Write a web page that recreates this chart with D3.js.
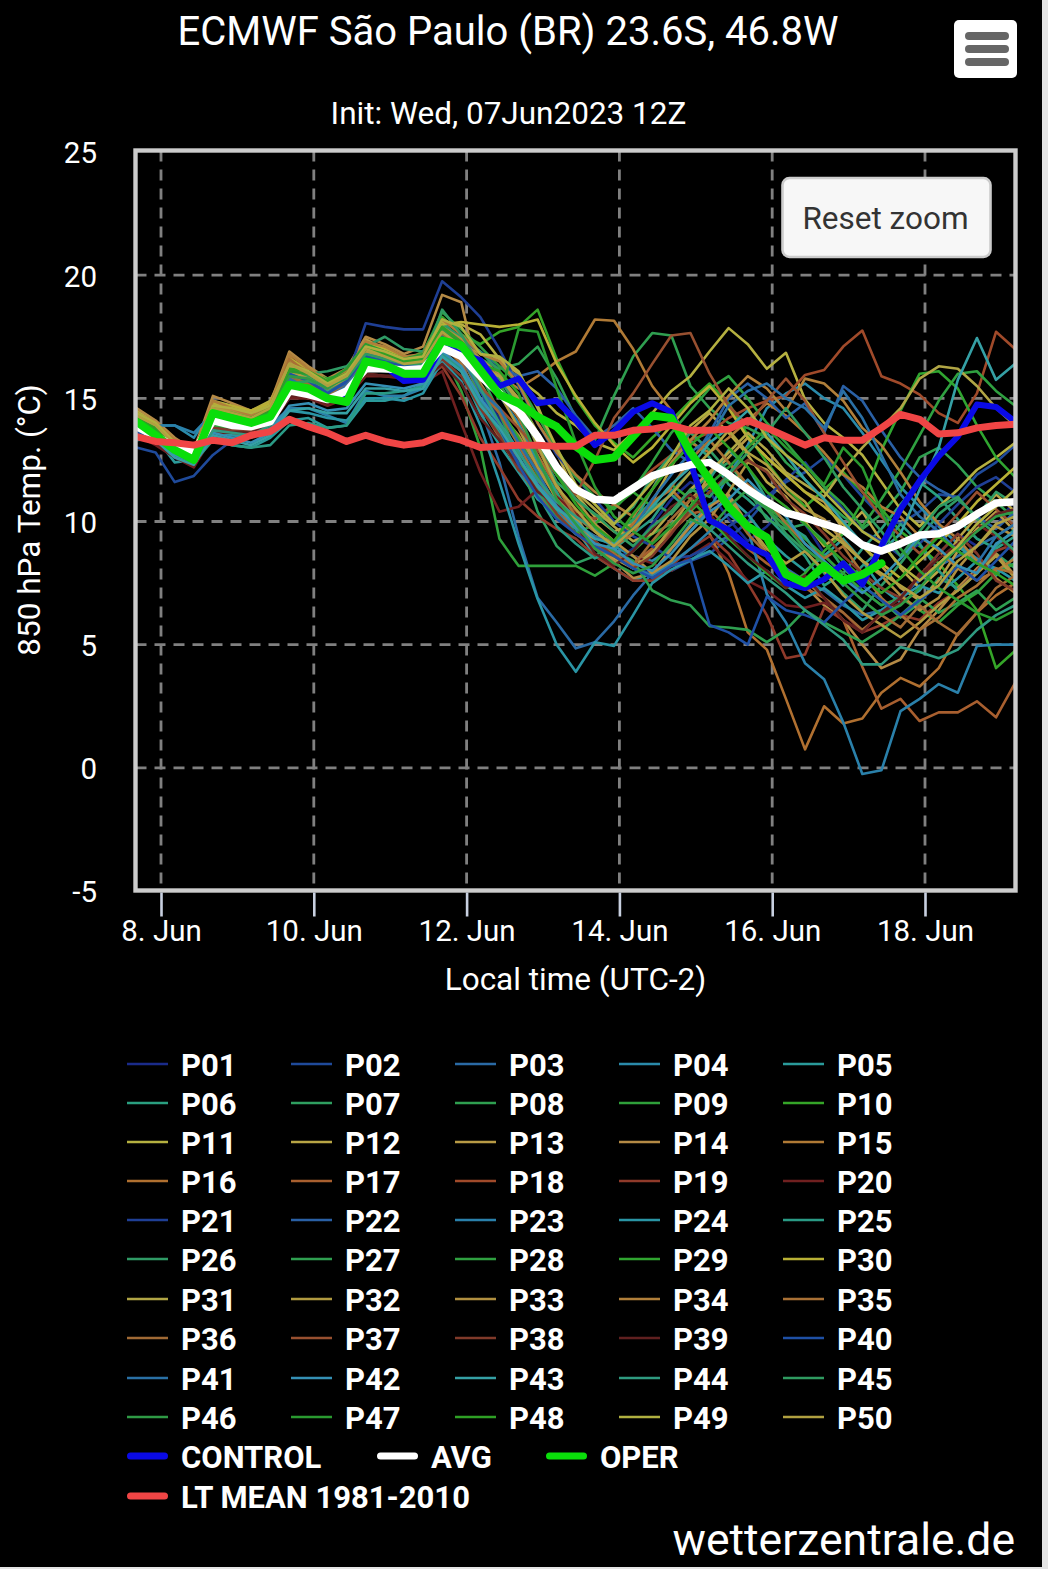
<!DOCTYPE html>
<html>
<head>
<meta charset="utf-8">
<script src="https://cdnjs.cloudflare.com/ajax/libs/d3/7.8.5/d3.min.js"></script>
<style>
  html, body { margin: 0; padding: 0; background: #e4e4e4; overflow: hidden; }
  svg { display: block; font-family: Roboto, sans-serif; }
</style>
</head>
<body>
<svg id="chart" width="1042" height="1567"></svg>
<script>
// 6-hourly steps in local time (UTC-2), first value on 7 Jun 16:00
const startTime = Date.UTC(2023, 5, 7, 16);
const stepHours = 6;

const yTicks = [25, 20, 15, 10, 5, 0, -5];
const xTickDays = [8, 10, 12, 14, 16, 18];

const P01 = [13.4,13.2,12.6,12.3,13.8, 13.7,13.8,14.0,15.4,15.2, 14.9,15.3,16.3,16.2,16.0, 16.0,17.4,16.6,15.3,14.2, 12.6,11.6,10.4,9.7,8.9, 8.4,8.9,9.9,10.9,11.6, 11.2,10.1,9.2,9.8,10.6, 9.9,8.7,7.7,7.2,6.6, 6.9,7.7,8.7,9.5,9.0, 9.8,10.9];
const P02 = [13.0,12.8,11.6,11.85,12.7, 13.3,13.5,14.0,15.0,15.2, 15.0,15.4,16.6,16.5,16.4, 16.5,17.6,17.0,15.5,13.8, 12.4,11.2,10.2,9.5,9.0, 8.6,8.1,7.9,8.0,8.4, 8.7,9.3,10.0,10.9,11.6, 12.0,12.6,11.9,11.0,10.2, 9.9,10.4,11.1,11.0,11.9, 12.4,13.1];
const P03 = [13.5,13.6,13.2,12.7,14.0, 14.2,14.3,14.9,15.6,15.3, 15.0,15.2,16.3,16.5,16.2, 16.1,17.2,16.5,14.6,12.4, 9.4,6.9,5.9,4.85,5.1, 5.95,7.0,7.9,8.2,8.4, 9.0,9.4,9.0,8.6,8.1, 7.6,7.2,6.6,6.2,6.4, 7.0,7.6,8.2,8.6,9.0, 9.4,9.9];
const P04 = [13.8,13.9,13.9,13.4,14.6, 14.4,14.2,14.6,15.8,15.5, 15.3,15.6,16.7,16.4,16.2, 16.4,17.7,17.1,15.8,15.1, 14.0,12.4,11.1,10.2,9.6, 9.0,8.6,8.4,8.9,9.6, 10.5,11.9,13.1,14.6,15.2, 15.6,15.0,14.6,13.6,12.5, 11.4,10.6,9.8,9.1,8.5, 8.0,8.3];
const P05 = [13.3,13.4,12.4,12.5,13.4, 13.1,13.0,13.4,14.1,14.2, 13.8,13.9,14.9,14.9,15.1, 15.6,16.7,16.1,14.4,13.1, 12.0,10.9,10.3,9.7,8.6, 8.1,7.6,7.9,8.9,9.9, 10.7,11.0,10.3,9.3,8.6, 8.0,8.6,9.3,8.4,7.3, 6.7,7.2,8.3,9.0,8.4, 7.8,8.6];
const P06 = [13.9,13.5,12.9,12.3,13.9, 13.9,14.0,14.4,16.0,15.9, 15.3,15.7,17.0,16.8,16.6, 16.8,18.1,17.4,16.2,15.6, 14.3,12.5,11.2,9.8,9.1, 8.8,9.9,11.3,12.7,13.3, 12.6,11.5,10.9,10.2,9.4, 8.6,7.4,7.9,8.9,9.7, 10.7,11.6,11.0,10.1,9.3, 8.9,9.4];
const P07 = [14.1,13.7,13.0,12.5,14.2, 14.1,13.9,14.3,15.7,15.8, 15.2,15.8,16.9,16.6,16.3, 16.2,17.5,16.8,15.0,13.9, 12.7,10.4,9.0,8.3,8.6, 9.2,10.1,10.8,10.3,11.2, 11.9,12.4,11.3,10.1,9.7, 9.9,9.2,8.1,7.4,6.8, 6.1,6.7,7.7,7.3,8.0, 8.7,8.1];
const P08 = [14.2,13.8,13.1,12.6,14.5, 14.3,14.1,14.4,16.1,15.9, 15.6,16.0,17.0,16.7,16.4, 16.5,17.9,17.3,16.6,16.2, 16.4,17.1,15.8,14.2,13.3, 15.1,16.7,17.65,17.55,15.5, 14.6,14.0,13.8,13.4,12.4, 11.7,10.9,10.2,9.7,10.3, 11.2,12.6,13.0,12.3,11.4, 10.8,10.1];
const P09 = [13.6,13.3,12.8,12.4,13.9, 13.8,13.7,14.1,15.3,15.4, 15.0,15.2,16.1,16.2,16.1, 16.0,16.9,15.3,13.0,9.3, 8.2,8.2,8.2,8.2,7.8, 8.3,8.8,9.5,9.9,10.4, 11.2,11.7,11.4,10.6,10.0, 9.3,8.6,7.9,7.2,6.6, 6.9,6.4,5.9,6.6,7.1, 7.9,8.3];
const P10 = [14.3,13.9,13.2,12.7,14.4, 14.5,14.3,14.7,16.2,16.0, 15.7,16.1,17.3,16.9,16.5, 16.9,18.3,17.6,17.2,17.7, 17.9,18.6,16.6,15.0,13.9, 13.2,12.6,13.4,14.1,14.9, 15.6,14.8,13.5,12.4,11.4, 10.6,11.3,12.0,11.2,10.5, 9.6,9.0,8.3,7.4,6.4, 4.05,4.75];
const P11 = [14.5,14.0,13.3,12.8,14.9, 14.7,14.5,14.9,16.5,16.0, 15.6,16.2,17.2,16.9,16.6, 16.7,18.1,18.0,17.6,16.6, 15.8,15.2,14.4,13.9,13.2, 12.9,13.6,14.4,15.3,15.9, 16.9,17.85,17.2,16.2,16.85, 14.95,14.0,13.4,12.7,11.6, 10.5,9.8,10.6,11.3,12.1, 12.6,13.2];
const P12 = [14.4,14.0,13.2,12.9,14.8, 14.6,14.4,14.7,16.3,16.1, 15.5,15.9,17.0,16.8,16.5, 16.6,17.8,17.3,16.8,16.6, 16.0,14.7,12.8,11.1,10.2, 9.6,9.9,10.8,12.2,13.7, 14.4,13.6,12.7,11.6,11.0, 10.0,9.0,9.6,10.4,9.2, 8.1,7.3,8.0,9.3,10.2, 11.1,10.4];
const P13 = [14.3,13.8,13.0,12.6,14.6, 14.4,14.1,14.5,16.4,16.0, 15.4,15.8,17.4,17.0,16.7, 16.6,17.7,17.2,16.1,15.8, 14.9,13.0,11.5,10.2,9.0, 8.5,8.1,8.8,9.6,10.6, 11.9,12.6,13.4,12.6,11.9, 11.2,10.8,9.7,9.0,8.2, 7.3,6.8,7.6,8.8,9.7, 10.4,9.6];
const P14 = [14.6,14.1,13.4,12.9,15.1, 14.8,14.5,14.8,16.9,16.3, 15.8,16.2,17.5,17.2,16.8, 17.1,19.2,18.9,15.6,14.4, 13.5,12.2,11.0,10.0,9.0, 8.4,7.7,7.9,8.9,9.8, 10.6,11.1,9.9,8.7,7.9, 7.4,6.6,6.0,5.0,4.05, 4.4,5.6,6.4,7.3,8.1, 8.7,7.8];
const P15 = [14.2,13.9,13.3,12.7,14.7, 14.4,14.2,14.6,16.7,16.0, 15.6,16.0,17.3,17.0,16.5, 16.6,17.8,17.2,16.4,15.9, 15.4,15.9,16.5,16.9,18.2, 18.15,17.0,15.5,14.5,13.2, 12.8,13.4,14.1,14.8,14.3, 13.6,12.8,11.9,11.4,10.6, 10.2,9.4,8.8,8.1,7.6, 8.0,8.5];
const P16 = [14.0,13.6,13.0,12.5,14.4, 14.2,14.0,14.3,15.9,15.7, 15.2,15.5,16.6,16.5,16.3, 16.3,17.2,16.4,14.9,13.6, 12.6,11.3,10.4,9.8,9.4, 9.2,9.9,10.8,11.3,10.5, 9.5,7.9,5.5,4.8,2.8, 0.75,2.5,1.8,2.0,3.05, 3.65,3.3,4.05,5.45,6.3, 7.0,7.5];
const P17 = [13.7,13.4,12.9,12.4,14.1, 14.0,13.9,14.2,15.5,15.6, 15.1,15.3,16.4,16.2,16.2, 16.1,17.0,16.2,14.7,13.4, 12.1,11.1,10.2,9.5,8.9, 8.6,8.3,8.9,9.6,10.3, 10.5,9.7,8.9,8.3,7.8, 7.3,6.9,6.0,4.1,2.4, 2.8,1.9,2.25,2.25,2.7, 2.05,3.45];
const P18 = [13.9,13.5,12.9,12.5,14.0, 13.9,14.0,14.3,15.6,15.5, 15.0,15.4,16.5,16.4,16.3, 16.2,17.3,16.7,15.4,14.5, 13.2,12.1,11.0,10.4,10.1, 10.7,11.4,12.1,12.7,13.3, 13.6,14.2,14.6,14.9,15.1, 15.95,16.15,17.1,17.75,15.9, 15.6,15.15,14.4,14.0,15.2, 17.7,17.0];
const P19 = [13.6,13.2,12.7,12.3,13.6, 13.5,13.6,14.0,15.1,15.0, 14.8,15.1,16.0,15.9,15.9, 15.7,16.3,15.1,13.4,12.2, 10.9,10.2,9.7,9.3,8.6, 8.1,7.6,7.6,8.2,8.9, 9.4,8.7,7.5,6.2,4.45, 4.6,6.5,6.0,5.5,5.8, 6.2,6.0,6.7,7.2,8.0, 8.8,9.1];
const P20 = [13.5,13.1,12.6,12.2,13.5, 13.4,13.5,13.9,15.0,15.0, 14.7,15.0,15.9,15.9,15.8, 15.6,16.1,14.0,12.0,10.4, 10.6,11.3,11.0,10.3,9.8, 9.2,8.6,8.3,8.0,8.6, 9.1,8.4,7.6,7.2,6.6, 6.5,6.7,6.3,5.5,6.3, 6.7,7.9,8.2,9.0,9.9, 9.4,8.7];
const P21 = [13.7,13.5,13.0,12.6,14.2, 14.1,14.1,14.6,16.1,15.7, 15.4,15.8,18.05,17.9,17.8, 17.8,19.75,19.1,18.3,17.0, 15.5,14.0,12.7,11.8,10.9, 10.0,9.4,9.0,8.5,8.6, 9.0,9.8,10.3,11.0,11.7, 12.4,11.4,10.5,9.6,9.2, 8.6,9.1,9.9,10.7,11.4, 11.8,11.2];
const P22 = [13.8,13.5,12.9,12.5,14.3, 14.2,14.2,14.7,16.2,15.8, 15.2,15.6,16.8,16.6,16.5, 16.6,17.6,17.3,16.9,16.3, 15.9,16.1,15.4,14.3,13.4, 13.9,14.6,13.8,12.9,12.4, 13.6,15.0,15.6,15.0,14.2, 14.8,13.6,15.5,14.9,13.7, 12.6,11.8,11.3,10.9,10.2, 9.7,10.4];
const P23 = [13.3,13.9,13.9,13.6,14.4, 14.0,13.7,13.9,14.6,14.6, 14.3,14.0,15.3,15.1,15.1, 15.4,16.6,16.2,14.9,13.5, 12.1,11.2,10.4,9.5,9.1, 8.6,8.1,7.8,8.3,8.9, 9.6,10.3,9.7,7.05,5.9, 4.25,3.6,1.85,-0.25,-0.1, 2.3,2.8,3.4,3.05,4.95, 5.0,5.0];
const P24 = [13.4,13.6,13.3,12.9,13.7, 13.5,13.4,13.8,14.5,14.4, 14.2,14.1,15.0,15.0,14.9, 15.2,16.5,15.7,13.9,11.6, 9.1,6.85,5.0,3.9,5.1, 4.95,6.2,7.5,8.05,8.45, 8.8,8.2,7.5,8.0,7.4, 6.9,7.3,6.7,6.0,6.4, 6.9,7.4,7.1,7.7,8.4, 8.1,7.6];
const P25 = [13.7,13.4,12.8,12.4,13.3, 13.1,13.0,13.1,13.9,14.0, 13.8,13.9,15.2,15.2,15.3, 15.5,16.8,16.2,14.8,13.6, 12.3,11.1,9.8,9.1,8.5, 8.9,9.5,10.1,11.2,12.0, 11.7,12.9,12.2,10.9,9.9, 9.4,8.3,7.4,8.2,8.9, 9.9,9.1,8.0,7.2,7.9, 9.0,9.7];
const P26 = [14.0,13.6,12.9,12.4,14.1, 14.3,14.3,14.7,15.8,16.0, 16.1,16.3,17.1,17.5,17.0, 16.9,18.0,17.5,16.9,16.1, 14.7,13.1,11.6,10.9,10.3, 9.9,10.6,11.8,12.7,13.6, 12.9,12.0,11.1,10.5,9.5, 8.8,7.9,7.1,6.4,7.4, 8.3,9.3,10.3,10.9,10.2, 11.2,10.7];
const P27 = [14.1,13.7,13.0,12.6,14.3, 14.4,14.1,14.5,16.0,15.9, 15.5,16.0,17.0,16.9,16.7, 16.7,17.9,17.2,16.0,14.4, 12.6,11.3,10.2,9.5,9.1, 8.8,8.4,7.2,6.8,6.6, 5.75,5.7,5.6,5.1,5.6, 6.4,5.9,5.5,5.1,5.6, 6.2,6.9,6.3,6.7,7.2, 6.4,6.9];
const P28 = [14.2,13.8,13.1,12.7,14.6, 14.5,14.3,14.6,16.2,16.0, 15.6,16.1,17.1,16.8,16.6, 16.8,18.5,17.8,17.1,16.3, 15.6,14.3,12.9,11.8,11.0, 10.5,11.3,12.4,13.6,14.5, 15.4,15.9,15.0,14.0,13.2, 12.3,11.4,10.7,9.8,10.9, 12.1,13.5,14.9,16.0,16.1, 15.3,14.7];
const P29 = [14.1,13.7,13.0,12.6,14.4, 14.3,14.1,14.4,16.1,16.0, 15.8,16.0,17.1,16.9,16.5, 16.7,17.6,16.9,15.5,14.6, 13.4,11.9,10.3,9.5,9.9, 10.6,11.2,10.6,11.5,10.9, 10.1,9.3,8.6,7.9,7.3, 7.9,8.8,9.5,10.8,12.9, 14.5,16.0,16.1,15.4,13.9, 12.6,11.8];
const P30 = [14.4,14.0,13.3,12.8,14.8, 14.7,14.5,14.8,16.6,16.2, 15.7,16.1,17.2,17.0,16.7, 16.6,18.0,18.1,18.0,17.9, 18.0,18.2,16.4,15.1,14.0, 13.1,12.4,13.0,13.9,14.8, 15.5,14.6,13.4,12.6,11.9, 11.2,10.6,9.9,9.0,8.3, 7.7,8.4,9.1,9.9,10.8, 11.5,12.2];
const P31 = [14.3,13.9,13.2,12.7,14.6, 14.5,14.2,14.6,16.3,16.0, 15.5,15.9,17.0,16.8,16.4, 16.5,17.6,17.2,16.3,15.9, 15.0,13.6,12.2,11.2,10.5, 9.8,9.2,9.5,10.4,11.3, 12.0,12.8,13.6,12.9,12.0, 11.5,11.0,12.1,13.0,13.8, 14.6,15.8,16.3,16.2,15.5, 14.6,13.9];
const P32 = [14.2,13.8,13.1,12.6,14.5, 14.3,14.1,14.4,16.1,15.8, 15.4,15.8,16.9,16.7,16.4, 16.4,17.5,16.9,15.9,15.2, 13.8,12.2,10.9,10.1,9.2, 8.6,8.1,8.7,9.8,10.9, 11.6,10.9,9.9,8.9,8.3, 8.8,8.0,7.0,6.3,5.8, 5.3,5.9,6.6,7.2,7.9, 8.6,7.7];
const P33 = [14.3,13.9,13.2,12.8,14.7, 14.5,14.3,14.6,16.5,16.1, 15.6,15.9,17.0,16.8,16.5, 16.6,17.9,17.4,16.6,16.0, 14.8,13.2,11.9,10.9,9.9, 9.2,8.6,7.9,8.4,9.4, 10.1,11.2,12.4,12.1,11.2, 10.5,10.1,9.2,8.4,7.8, 7.0,6.4,6.9,8.1,9.0, 9.8,9.4];
const P34 = [14.4,14.0,13.3,12.8,14.9, 14.6,14.3,14.7,16.8,16.2, 15.7,16.1,17.3,17.1,16.7, 16.8,18.2,17.6,16.8,16.5, 15.6,14.0,12.8,11.9,11.2, 10.7,10.2,11.3,12.4,13.3, 14.1,15.1,15.9,15.4,14.5, 15.8,15.6,14.9,13.8,13.1, 12.0,10.8,9.9,9.3,8.4, 7.7,7.1];
const P35 = [14.1,13.7,13.0,12.5,14.6, 14.3,14.0,14.4,16.6,16.0, 15.5,15.9,17.1,16.9,16.4, 16.5,17.6,17.0,16.0,15.3, 14.2,12.7,11.4,10.2,9.6, 9.0,9.5,10.7,11.4,12.5, 13.3,12.4,11.5,10.9,9.9, 9.1,8.5,9.0,7.9,6.9, 6.2,5.6,6.1,6.9,7.4, 8.1,7.9];
const P36 = [13.9,13.6,13.0,12.5,14.3, 14.1,13.9,14.3,15.8,15.6, 15.1,15.5,16.6,16.4,16.2, 16.2,17.2,16.6,15.3,14.4, 13.1,11.7,10.7,9.8,9.1, 8.7,8.2,9.2,10.1,10.9, 11.4,10.6,9.5,8.7,8.0, 7.6,6.9,6.3,5.6,6.2, 5.7,6.6,5.9,5.4,6.3, 7.3,7.8];
const P37 = [13.8,13.5,12.9,12.4,14.1, 14.0,13.9,14.2,15.6,15.5, 15.0,15.4,16.5,16.3,16.2, 16.1,17.1,16.6,15.5,14.6, 13.8,12.9,11.9,11.1,12.5, 14.2,15.2,16.4,17.55,17.65, 16.0,14.7,13.9,14.9,15.8, 14.9,13.6,12.4,11.2,10.2, 9.4,8.7,9.5,10.3,11.2, 10.5,9.8];
const P38 = [13.6,13.3,12.8,12.3,13.8, 13.7,13.7,14.0,15.3,15.2, 14.9,15.2,16.2,16.1,16.0, 15.9,16.6,15.9,14.6,13.5, 12.1,11.4,10.3,9.5,9.2, 8.6,8.1,8.6,9.5,10.5, 11.2,11.9,12.5,12.0,10.9, 10.3,9.5,8.6,7.9,7.3, 6.9,7.8,8.7,9.5,8.7, 7.6,7.2];
const P39 = [13.5,13.2,12.7,12.3,13.6, 13.6,13.6,13.9,15.1,15.1, 14.8,15.0,16.0,15.9,15.9, 15.7,16.4,15.6,14.2,13.3, 12.3,11.2,10.7,9.9,8.7, 8.2,8.8,9.7,10.6,11.1, 10.3,9.4,8.6,8.0,7.3, 7.8,6.9,6.0,5.5,6.3, 6.9,7.8,8.5,9.1,9.6, 10.3,10.5];
const P40 = [13.6,13.4,12.9,12.5,14.0, 14.0,14.0,14.5,16.0,15.7, 15.2,15.7,16.7,16.5,16.3, 16.4,17.5,16.8,15.3,13.8, 12.3,11.0,10.1,9.5,9.0, 8.6,8.1,7.7,8.2,8.45, 5.8,5.5,5.0,6.95,6.4, 6.2,5.9,6.7,7.4,6.8, 6.2,6.8,7.4,8.2,7.6, 8.4,9.2];
const P41 = [13.7,13.5,12.9,12.5,14.1, 14.0,13.9,14.4,15.8,15.4, 15.0,15.5,16.5,16.3,16.2, 16.2,17.3,16.7,15.3,14.6, 13.2,12.0,10.6,9.9,9.4, 9.0,9.7,10.9,11.9,12.8, 13.4,14.7,15.3,15.6,15.0, 14.6,13.8,15.3,14.2,12.7, 11.1,10.2,9.6,8.8,8.3, 9.4,9.9];
const P42 = [13.4,13.4,12.7,12.4,13.6, 13.4,13.2,13.6,14.7,14.8, 14.5,14.6,15.6,15.5,15.4, 15.6,16.9,16.3,15.0,14.0, 12.9,11.5,10.6,9.8,9.1, 8.9,8.3,8.0,8.7,9.6, 10.4,10.9,11.7,10.9,10.2, 9.1,8.4,7.7,7.1,7.7, 8.5,9.4,8.9,8.2,7.9, 9.1,9.6];
const P43 = [13.5,13.3,12.6,12.3,13.5, 13.3,13.1,13.5,14.5,14.6, 14.4,14.4,15.4,15.4,15.3, 15.4,16.7,16.1,14.7,13.8, 12.6,11.4,10.5,10.0,9.3, 9.1,9.7,10.6,11.5,12.2, 13.2,13.8,14.5,13.6,12.7, 11.7,10.9,10.0,9.1,8.8, 9.5,11.3,13.0,15.75,17.45, 15.75,16.4];
const P44 = [13.8,13.5,12.8,12.4,13.7, 13.6,13.5,13.9,15.2,15.2, 15.0,15.2,16.2,16.1,16.1, 16.2,17.3,16.8,15.4,14.0, 12.8,11.7,10.8,10.2,9.7, 9.2,9.7,10.5,11.1,10.4, 9.7,9.0,8.3,7.7,7.1, 6.4,5.8,5.2,4.2,4.2, 4.9,4.7,4.45,4.8,5.6, 6.2,6.6];
const P45 = [13.9,13.6,12.9,12.5,14.0, 14.1,14.0,14.4,15.6,15.7, 15.5,15.8,16.8,16.6,16.4, 16.4,18.6,17.6,16.3,15.8, 14.6,13.2,11.9,10.9,10.3, 9.6,9.0,9.8,10.4,11.3, 11.0,11.9,12.8,13.6,14.6, 13.6,12.6,11.4,10.5,9.6, 8.6,9.6,10.6,11.0,10.1, 9.5,8.8];
const P46 = [14.0,13.6,13.0,12.5,14.2, 14.2,14.1,14.5,15.9,15.8, 15.4,15.9,17.0,16.8,16.4, 16.6,17.8,17.2,16.2,15.5, 14.4,12.6,10.9,9.9,8.9, 8.3,7.9,8.2,9.1,10.1, 9.7,10.6,11.3,10.5,9.8, 8.9,8.3,7.5,6.8,6.2, 6.6,7.3,8.2,8.9,9.6, 10.2,10.4];
const P47 = [14.1,13.7,13.0,12.6,14.4, 14.3,14.2,14.6,16.1,16.0, 15.7,16.2,17.2,16.9,16.6, 16.8,17.7,17.2,16.1,15.0, 17.8,17.7,15.4,13.2,11.4, 10.2,9.6,9.1,9.8,10.6, 11.5,12.2,13.0,13.8,13.0, 12.3,11.5,13.0,12.2,10.4, 8.9,8.0,7.3,6.8,6.3, 6.0,6.4];
const P48 = [14.2,13.8,13.1,12.7,14.5, 14.4,14.2,14.5,16.2,16.1, 15.7,16.0,17.0,16.8,16.5, 16.6,17.9,17.3,16.4,16.1, 15.2,13.4,11.9,10.7,9.8, 9.2,10.3,11.3,12.3,13.1, 13.8,13.0,12.2,11.2,10.6, 9.9,9.1,8.4,7.7,7.1, 7.7,8.6,9.4,8.8,8.3, 7.9,7.4];
const P49 = [14.4,14.0,13.2,12.8,14.7, 14.6,14.4,14.7,16.4,16.1, 15.6,16.0,17.1,16.9,16.6, 16.7,18.2,17.9,16.8,16.7, 16.1,14.6,13.0,11.5,10.7, 9.9,10.7,11.6,12.6,13.9, 14.5,15.4,14.6,13.4,12.7, 12.1,11.2,10.4,9.6,9.1, 8.2,7.6,8.3,9.0,9.9, 10.6,11.3];
const P50 = [14.3,13.9,13.1,12.7,14.6, 14.4,14.2,14.6,16.4,16.0, 15.5,15.9,17.0,16.7,16.4, 16.5,17.7,17.1,16.2,15.9, 14.9,13.1,11.4,10.5,9.6, 9.0,9.7,10.4,11.1,12.0, 12.8,13.7,12.8,12.3,11.4, 10.8,9.7,9.1,8.4,7.9, 7.4,6.9,7.4,8.4,9.0, 9.9,10.2];

const control = [13.9,13.5,13.0,12.7,14.2, 14.0,13.95,14.15,15.45,15.3, 15.0,15.2,16.35,16.3,15.7, 15.75,17.1,16.8,16.55,15.5, 15.8,14.8,14.9,14.1,13.1, 13.65,14.45,14.8,14.45,12.4, 10.05,9.65,9.0,8.65,7.5, 7.3,7.65,8.3,7.45,9.0, 10.5,11.65,12.65,13.45,14.75, 14.65,14.05];
const avg = [13.85,13.45,13.05,12.8,14.1, 13.9,13.85,14.05,15.3,15.15, 14.95,15.3,16.2,16.2,16.15, 16.2,17.05,16.7,15.9,15.2, 14.5,13.45,12.2,11.3,10.9, 10.85,11.35,11.85,12.1,12.3, 12.4,11.9,11.3,10.8,10.35, 10.15,9.9,9.65,9.05,8.8, 9.1,9.45,9.5,9.8,10.3, 10.75,10.8];
const oper = [14.05,13.5,12.9,12.5,14.4, 14.2,14.0,14.25,15.55,15.4, 15.0,14.85,16.5,16.35,16.0, 16.0,17.35,17.15,16.15,15.15, 14.8,14.25,13.85,13.05,12.5, 12.6,13.45,14.3,14.2,12.8, 11.7,10.6,9.8,9.35,7.85, 7.5,8.2,7.6,7.85,8.3];
const ltMean = [13.45,13.25,13.2,13.1,13.3, 13.2,13.5,13.65,14.15,13.85, 13.6,13.25,13.5,13.25,13.1, 13.2,13.5,13.3,13.0,13.05, 13.1,13.1,13.05,13.05,13.5, 13.5,13.7,13.75,13.9,13.7, 13.7,13.75,14.1,13.8,13.45, 13.1,13.4,13.3,13.3,13.8, 14.35,14.15,13.55,13.6,13.8, 13.9,13.95];

const members = [
  P01,P02,P03,P04,P05,P06,P07,P08,P09,P10,
  P11,P12,P13,P14,P15,P16,P17,P18,P19,P20,
  P21,P22,P23,P24,P25,P26,P27,P28,P29,P30,
  P31,P32,P33,P34,P35,P36,P37,P38,P39,P40,
  P41,P42,P43,P44,P45,P46,P47,P48,P49,P50
];
const memberNames = members.map((d, i) => "P" + String(i + 1).padStart(2, "0"));
const memberColors = [
  "#1a2b8a","#1f4a9a","#2a6aa5","#2a8aaa","#2a9a9a","#2a9f80","#2f9f60","#2f9f50","#2fa03a","#35a528",
  "#b5b040","#b8a545","#b89a45","#b58a45","#b07a35","#b07030","#a85f2f","#a04a2a","#903a2a","#702020",
  "#1f3f95","#2a60a5","#2a80aa","#2a95a5","#2a9a85","#2f9a65","#2f9f50","#2fa040","#30a530","#b8b035",
  "#b0a545","#b09a40","#b08f40","#b07f3a","#a87035","#a06a35","#985030","#803a2a","#602020","#1f50a5",
  "#2a70a5","#3590b5","#35a0a5","#2f9a80","#2f9a60","#2f9a45","#2a9a30","#2fa025","#b0b040","#b0a040"
];

const svg = d3.select("#chart");
svg.append("rect").attr("width", 1042).attr("height", 1567).attr("fill", "#000");

const xScale = d3.scaleUtc()
  .domain([Date.UTC(2023, 5, 8), Date.UTC(2023, 5, 18)])
  .range([162, 926]);
const yScale = d3.scaleLinear().domain([25, -5]).range([152, 891]);

const plot = { left: 135.5, right: 1015.5, top: 150.5, bottom: 890.5 };

svg.append("clipPath").attr("id", "plotClip").append("rect")
  .attr("x", plot.left).attr("y", plot.top)
  .attr("width", plot.right - plot.left).attr("height", plot.bottom - plot.top);

// grid
const gridDash = "11,8";
const grid = svg.append("g");
grid.selectAll(".h").data(yTicks.slice(1, -1)).join("line")
  .attr("x1", plot.left).attr("x2", plot.right)
  .attr("y1", d => yScale(d)).attr("y2", d => yScale(d))
  .attr("stroke", "#808080").attr("stroke-width", 2.8).attr("stroke-dasharray", gridDash);
grid.selectAll(".v").data(xTickDays).join("line")
  .attr("x1", d => xScale(Date.UTC(2023, 5, d)) - 1).attr("x2", d => xScale(Date.UTC(2023, 5, d)) - 1)
  .attr("y1", plot.top).attr("y2", plot.bottom)
  .attr("stroke", "#808080").attr("stroke-width", 2.8).attr("stroke-dasharray", gridDash);

// series
const line = d3.line()
  .x((d, i) => xScale(startTime + i * stepHours * 3600000))
  .y(d => yScale(d));

const lines = svg.append("g").attr("clip-path", "url(#plotClip)")
  .attr("fill", "none").attr("stroke-linejoin", "round");
lines.selectAll(".member").data(members).join("path")
  .attr("class", "member")
  .attr("d", line)
  .attr("stroke", (d, i) => memberColors[i])
  .attr("stroke-width", 2.6);

const thick = [
  { name: "CONTROL", values: control, color: "#0a0ae6", width: 6 },
  { name: "AVG", values: avg, color: "#ffffff", width: 7.5 },
  { name: "OPER", values: oper, color: "#0ade0a", width: 8 },
  { name: "LT MEAN 1981-2010", values: ltMean, color: "#f04545", width: 7 }
];
thick.forEach(s => {
  lines.append("path").attr("d", line(s.values))
    .attr("stroke", s.color).attr("stroke-width", s.width).attr("stroke-linecap", "round");
});

// plot border
svg.append("rect")
  .attr("x", plot.left).attr("y", plot.top)
  .attr("width", plot.right - plot.left).attr("height", plot.bottom - plot.top)
  .attr("fill", "none").attr("stroke", "#cccccc").attr("stroke-width", 4.4);

// axes
const xAxis = d3.axisBottom(xScale)
  .tickValues(xTickDays.map(d => new Date(Date.UTC(2023, 5, d))))
  .tickFormat(d => d.getUTCDate() + ". Jun")
  .tickSize(24).tickPadding(4);
const xG = svg.append("g").attr("transform", "translate(-1,892.5)").call(xAxis);
xG.select(".domain").remove();
xG.selectAll(".tick line").attr("stroke", "#c8d0e0").attr("stroke-width", 2.6);
xG.selectAll(".tick text").attr("fill", "#fff").attr("font-size", 29.5).attr("font-family", "Roboto");

const yAxis = d3.axisLeft(yScale).tickValues(yTicks).tickFormat(String).tickSize(0).tickPadding(0);
const yG = svg.append("g").attr("transform", "translate(97,1.5)").call(yAxis);
yG.select(".domain").remove();
yG.selectAll(".tick text").attr("fill", "#fff").attr("font-size", 29.5).attr("font-family", "Roboto");

svg.append("text").text("850 hPa Temp. (°C)")
  .attr("transform", "translate(40,520) rotate(-90)")
  .attr("text-anchor", "middle").attr("fill", "#fff").attr("font-size", 31.5);
svg.append("text").text("Local time (UTC-2)")
  .attr("x", 575.5).attr("y", 990).attr("text-anchor", "middle").attr("fill", "#fff").attr("font-size", 31.5);

// titles
svg.append("text").text("ECMWF São Paulo (BR) 23.6S, 46.8W")
  .attr("x", 508).attr("y", 45).attr("text-anchor", "middle").attr("fill", "#fff").attr("font-size", 40);
svg.append("text").text("Init: Wed, 07Jun2023 12Z")
  .attr("x", 508.5).attr("y", 124).attr("text-anchor", "middle").attr("fill", "#fff").attr("font-size", 31.5);

// menu button
const menu = svg.append("g");
menu.append("rect").attr("x", 954).attr("y", 20).attr("width", 63).attr("height", 58).attr("rx", 5).attr("fill", "#fff");
menu.selectAll(".bar").data([32, 45, 58]).join("rect")
  .attr("x", 965).attr("y", d => d).attr("width", 44).attr("height", 8).attr("rx", 4).attr("fill", "#666");

// reset zoom button
svg.append("rect").attr("x", 782.5).attr("y", 178).attr("width", 208).attr("height", 79).attr("rx", 7)
  .attr("fill", "#f7f7f7").attr("stroke", "#cccccc").attr("stroke-width", 2.6);
svg.append("text").text("Reset zoom")
  .attr("x", 885.5).attr("y", 229).attr("text-anchor", "middle").attr("fill", "#333").attr("font-size", 31.5);

// legend
const legendRows = [1064, 1103, 1142, 1181, 1220, 1259, 1299, 1338, 1378, 1417, 1456, 1496];
const legend = svg.append("g").attr("font-weight", 700).attr("font-size", 31).attr("fill", "#fff");
const memberItems = legend.selectAll(".item").data(memberNames).join("g")
  .attr("transform", (d, i) => `translate(${127 + (i % 5) * 164},${legendRows[Math.floor(i / 5)]})`);
memberItems.append("line").attr("x2", 41)
  .attr("stroke", (d, i) => memberColors[i]).attr("stroke-width", 2.6);
memberItems.append("text").text(d => d).attr("x", 54).attr("y", 11.5);

const thickLegendPos = [[127, 1456], [377, 1456], [546, 1456], [127, 1496]];
thick.forEach((s, i) => {
  const g = legend.append("g").attr("transform", `translate(${thickLegendPos[i][0]},${thickLegendPos[i][1]})`);
  g.append("line").attr("x1", 3.5).attr("x2", 37.5).attr("stroke", s.color).attr("stroke-width", 7).attr("stroke-linecap", "round");
  g.append("text").text(s.name).attr("x", 54).attr("y", 11.5);
});

svg.append("text").text("wetterzentrale.de")
  .attr("x", 1015).attr("y", 1555).attr("text-anchor", "end").attr("fill", "#fff").attr("font-size", 44.5);
</script>
</body>
</html>
